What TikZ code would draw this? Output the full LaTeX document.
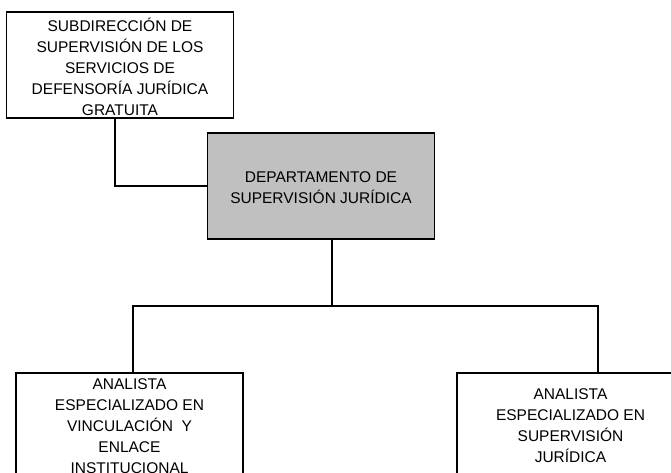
\documentclass[tikz,border=0pt]{standalone}
\usepackage{fontspec}
\setmainfont{Liberation Sans}
\usepackage{tikz}
\usetikzlibrary{positioning}
\definecolor{deptGray}{RGB}{192,192,192}
\colorlet{unitLine}{black}

\begin{document}
\begin{tikzpicture}[
  x=1pt, y=-1pt,
  every unit/.style={
    draw=unitLine,
    line width=1.6pt,
    minimum width=227pt,
    minimum height=106pt,
    inner sep=0pt,
    align=center,
    font=\fontsize{15.5}{21}\selectfont,
  },
  unit/.style={
    every unit/.try,
    fill=white,
  },
  head unit/.style={
    every unit/.try,
    fill=deptGray,
  },
  link/.style={
    draw=unitLine,
    line width=1.6pt,
  }
]
\useasboundingbox (0,0) rectangle (671,473);
\node[unit] (sub) at (120,65) {\raisebox{-4pt}[\height][\depth]{\begin{tabular}{@{}c@{}}SUBDIRECCIÓN DE\\ SUPERVISIÓN DE LOS\\ SERVICIOS DE\\ DEFENSORÍA JURÍDICA\\ GRATUITA\end{tabular}}};
\node[head unit] (dep) at (321,186) {\raisebox{-3pt}[\height][\depth]{\begin{tabular}{@{}c@{}}DEPARTAMENTO DE\\ SUPERVISIÓN JURÍDICA\end{tabular}}};
\node[unit] (anaA) at (129.5,426) {ANALISTA\\ ESPECIALIZADO EN\\ VINCULACIÓN~ Y\\ ENLACE\\ INSTITUCIONAL};
\node[unit] (anaB) at (570.5,426) {ANALISTA\\ ESPECIALIZADO EN\\ SUPERVISIÓN\\ JURÍDICA};
% connectors
\draw[link] ([xshift=-5pt]sub.south) |- (dep.west);
\draw[link] ([xshift=11pt]dep.south) -- ++(0,66) coordinate (bus);
\draw[link] ([xshift=3.5pt]anaA.north) |- (bus);
\draw[link] ([xshift=27.5pt]anaB.north) |- (bus);
\end{tikzpicture}
\end{document}
